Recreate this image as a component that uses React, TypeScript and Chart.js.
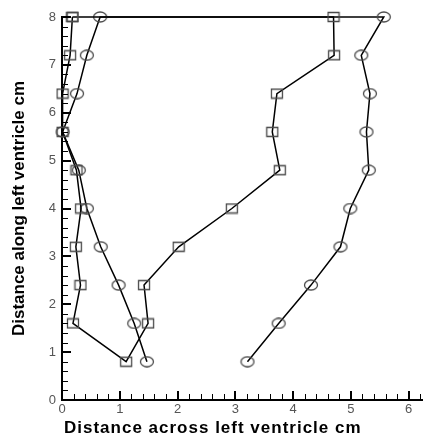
import React, { useEffect, useRef } from 'react';
import { Chart, registerables } from 'chart.js';

Chart.register(...registerables);

// Square-marker profile (closed loop: left wall down, right wall up, back along top)
const squareX = [0.18, 0.14, 0.01, 0.01, 0.25, 0.33, 0.24, 0.32, 0.19, 1.11, 1.49, 1.42, 2.02, 2.94, 3.77, 3.64, 3.72, 4.71, 4.7, 0.18];
const squareY = [8, 7.2, 6.4, 5.6, 4.8, 4.0, 3.2, 2.4, 1.6, 0.8, 1.6, 2.4, 3.2, 4.0, 4.8, 5.6, 6.4, 7.2, 8, 8];

// Circle-marker profile (open: left wall up, across top, right wall down)
const circleX = [1.47, 1.25, 0.98, 0.67, 0.43, 0.29, 0.01, 0.26, 0.43, 0.66, 5.57, 5.18, 5.33, 5.27, 5.31, 4.99, 4.82, 4.31, 3.75, 3.21];
const circleY = [0.8, 1.6, 2.4, 3.2, 4.0, 4.8, 5.6, 6.4, 7.2, 8, 8, 7.2, 6.4, 5.6, 4.8, 4.0, 3.2, 2.4, 1.6, 0.8];

const xMin = 0;
const xMax = 6.24;
const yMin = 0;
const yMax = 8;
const majorStep = 1;
const minorStep = 0.2;

const xTitle = 'Distance across left ventricle cm';
const yTitle = 'Distance along left ventricle cm';

function makeMarker(kind: 'rect' | 'ellipse'): HTMLCanvasElement {
  const c = document.createElement('canvas');
  const w = kind === 'rect' ? 14 : 16;
  const h = 12;
  c.width = w;
  c.height = h;
  const g = c.getContext('2d')!;
  g.strokeStyle = '#4a4a4a';
  g.lineWidth = 1.3;
  g.beginPath();
  if (kind === 'rect') {
    g.rect(1.5, 1.5, 11, 9);
  } else {
    g.ellipse(w / 2, h / 2, 6.5, 5, 0, 0, Math.PI * 2);
  }
  g.stroke();
  return c;
}

const decor = {
  id: 'decor',
  afterDraw(chart: any) {
    const ctx = chart.ctx as CanvasRenderingContext2D;
    const xs = chart.scales.x;
    const ys = chart.scales.y;
    const a = chart.chartArea;
    ctx.save();
    ctx.strokeStyle = '#000';
    // x ticks (inward)
    const nx = Math.floor((xMax - xMin) / minorStep + 1e-6);
    for (let i = 0; i <= nx; i++) {
      const v = xMin + i * minorStep;
      const major = Math.abs(v / majorStep - Math.round(v / majorStep)) < 1e-6;
      const px = Math.round(xs.getPixelForValue(v)) + (major ? 0 : 0.5);
      if (px > a.right) break;
      ctx.lineWidth = major ? 2 : 1;
      ctx.beginPath();
      ctx.moveTo(px, a.bottom);
      ctx.lineTo(px, a.bottom - (major ? 9 : 6));
      ctx.stroke();
    }
    // y ticks (inward)
    const ny = Math.round((yMax - yMin) / minorStep);
    for (let i = 0; i <= ny; i++) {
      const v = yMin + i * minorStep;
      const major = Math.abs(v / majorStep - Math.round(v / majorStep)) < 1e-6;
      const py = Math.round(ys.getPixelForValue(v)) + (major ? 0 : 0.5);
      ctx.lineWidth = major ? 2 : 1;
      ctx.beginPath();
      ctx.moveTo(a.left, py);
      ctx.lineTo(a.left + (major ? 9 : 6), py);
      ctx.stroke();
    }
    // axis titles
    ctx.fillStyle = '#000';
    ctx.font = 'bold 17px Arial, sans-serif';
    (ctx as any).letterSpacing = '1px';
    ctx.textAlign = 'left';
    ctx.textBaseline = 'alphabetic';
    ctx.fillText(xTitle, 64, 433);
    (ctx as any).letterSpacing = '0px';
    ctx.translate(24, (a.top + a.bottom) / 2);
    ctx.rotate(-Math.PI / 2);
    ctx.textAlign = 'center';
    ctx.fillText(yTitle, 0, 0);
    ctx.restore();
  },
};

const tickFont = { family: 'Arial, sans-serif', size: 13 };

export default function App() {
  const ref = useRef<HTMLCanvasElement>(null);
  useEffect(() => {
    if (!ref.current) return;
    const sq = makeMarker('rect');
    const ci = makeMarker('ellipse');
    const chart = new Chart(ref.current, {
      type: 'scatter',
      data: {
        datasets: [
          {
            label: 'squares',
            data: squareX.map((x, i) => ({ x, y: squareY[i] })),
            showLine: true,
            borderColor: '#000',
            borderWidth: 1.5,
            pointStyle: sq as any,
            pointRadius: 6,
            backgroundColor: 'transparent',
            clip: false as any,
          },
          {
            label: 'circles',
            data: circleX.map((x, i) => ({ x, y: circleY[i] })),
            showLine: true,
            borderColor: '#000',
            borderWidth: 1.5,
            pointStyle: ci as any,
            pointRadius: 6,
            backgroundColor: 'transparent',
            clip: false as any,
          },
        ],
      },
      options: {
        responsive: false,
        animation: false,
        layout: { padding: { top: 17, left: 0, right: 0, bottom: 0 } },
        plugins: { legend: { display: false }, tooltip: { enabled: false } },
        scales: {
          x: {
            type: 'linear',
            min: xMin,
            max: xMax,
            grid: { display: false, drawTicks: false, tickLength: 0 },
            border: { display: true, color: '#000', width: 2 },
            ticks: {
              stepSize: majorStep,
              includeBounds: false,
              autoSkip: false,
              color: '#555',
              padding: 2,
              font: tickFont,
            },
            afterFit: (s: any) => {
              s.height = 36;
            },
          },
          y: {
            type: 'linear',
            min: yMin,
            max: yMax,
            grid: { display: false, drawTicks: false, tickLength: 0 },
            border: { display: true, color: '#000', width: 2 },
            ticks: {
              stepSize: majorStep,
              includeBounds: false,
              autoSkip: false,
              color: '#555',
              padding: 6,
              font: tickFont,
            },
            afterFit: (s: any) => {
              s.width = 62;
            },
          },
        },
      },
      plugins: [decor],
    });
    return () => chart.destroy();
  }, []);
  return (
    <div style={{ position: 'fixed', left: 0, top: 0, width: 430, height: 436, background: '#fff' }}>
      <canvas ref={ref} width={430} height={436} style={{ display: 'block' }} />
    </div>
  );
}
